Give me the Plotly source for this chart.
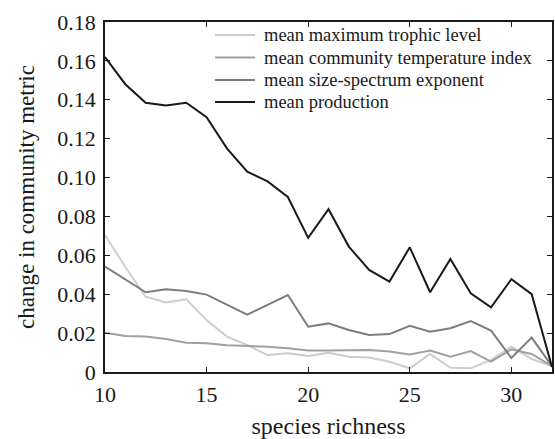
import plotly.graph_objects as go

richness = list(range(10, 33))

trophic = [0.0705, 0.054, 0.0387, 0.0357, 0.0374, 0.0267, 0.0182, 0.0139, 0.0087, 0.0096,
           0.0082, 0.0099, 0.0079, 0.0075, 0.0053, 0.0019, 0.0093, 0.0022, 0.0019, 0.0062,
           0.013, 0.0067, 0.003]
temperature = [0.0202, 0.0185, 0.0182, 0.017, 0.0151, 0.0148, 0.0137, 0.0134, 0.013, 0.0122,
               0.011, 0.011, 0.0113, 0.0113, 0.0105, 0.009, 0.011, 0.0079, 0.0108, 0.0053,
               0.0117, 0.0093, 0.003]
size_spectrum = [0.0542, 0.0478, 0.041, 0.0425, 0.0417, 0.0398, 0.0345, 0.0295, 0.0345, 0.0396,
                 0.0233, 0.025, 0.0216, 0.019, 0.0195, 0.0238, 0.0207, 0.0225, 0.0262, 0.0213,
                 0.0072, 0.0177, 0.003]
production = [0.162, 0.148, 0.1385, 0.137, 0.1385, 0.131, 0.115, 0.103, 0.098, 0.090,
              0.069, 0.0837, 0.0645, 0.0525, 0.0465, 0.0641, 0.041, 0.0581, 0.0405, 0.0333,
              0.0477, 0.040, 0.0026]

names = ["mean maximum trophic level", "mean community temperature index",
         "mean size-spectrum exponent", "mean production"]
colors = ["#cdcdcd", "#a0a0a0", "#7d7d7d", "#1a1a1a"]

x_ticks = [10, 15, 20, 25, 30]
y_ticks = [0, 0.02, 0.04, 0.06, 0.08, 0.10, 0.12, 0.14, 0.16, 0.18]
y_ticktext = ["0", "0.02", "0.04", "0.06", "0.08", "0.10", "0.12", "0.14", "0.16", "0.18"]

FONT = "Liberation Serif"
INK = "#1a1a1a"

W, H = 555, 439
ML, MR, MT, MB = 105, 3, 22, 67
PW, PH = W - ML - MR, H - MT - MB

fig = go.Figure()
for name, ys, c in zip(names, [trophic, temperature, size_spectrum, production], colors):
    fig.add_trace(go.Scatter(x=richness, y=ys, mode="lines", name=name,
                             line=dict(color=c, width=2), showlegend=False))

# manual legend (40px line samples, compact rows)
leg_x0, leg_x1, leg_tx = 215, 255, 262
leg_rows = [35, 57.5, 80, 102]
for name, c, py in zip(names, colors, leg_rows):
    yp = (H - MB - py) / PH
    fig.add_shape(type="line", xref="paper", yref="paper",
                  x0=(leg_x0 - ML) / PW, x1=(leg_x1 - ML) / PW, y0=yp, y1=yp,
                  line=dict(color=c, width=2))
    fig.add_annotation(xref="paper", yref="paper", x=(leg_tx - ML) / PW, y=yp,
                       xanchor="left", yanchor="middle", text=name, showarrow=False,
                       font=dict(family=FONT, size=18.5, color=INK))

axis_common = dict(showgrid=False, zeroline=False, showline=True, linecolor=INK,
                   linewidth=1.5, mirror="ticks", ticks="inside", ticklen=5,
                   tickcolor=INK, tickwidth=1, automargin=False,
                   tickfont=dict(family=FONT, size=22, color=INK))

fig.update_layout(
    width=W, height=H,
    margin=dict(l=ML, r=MR, t=MT, b=MB),
    paper_bgcolor="white", plot_bgcolor="white",
    font=dict(family=FONT, color=INK),
    xaxis=dict(range=[10, 32], tickvals=x_ticks, ticklabelstandoff=2,
               title=dict(text="species richness", font=dict(family=FONT, size=24), standoff=15),
               **axis_common),
    yaxis=dict(range=[0, 0.18], tickvals=y_ticks, ticktext=y_ticktext, ticklabelstandoff=3,
               title=dict(text="change in community metric", font=dict(family=FONT, size=23), standoff=16),
               **axis_common),
    showlegend=False,
)

fig.write_html("out.html")
